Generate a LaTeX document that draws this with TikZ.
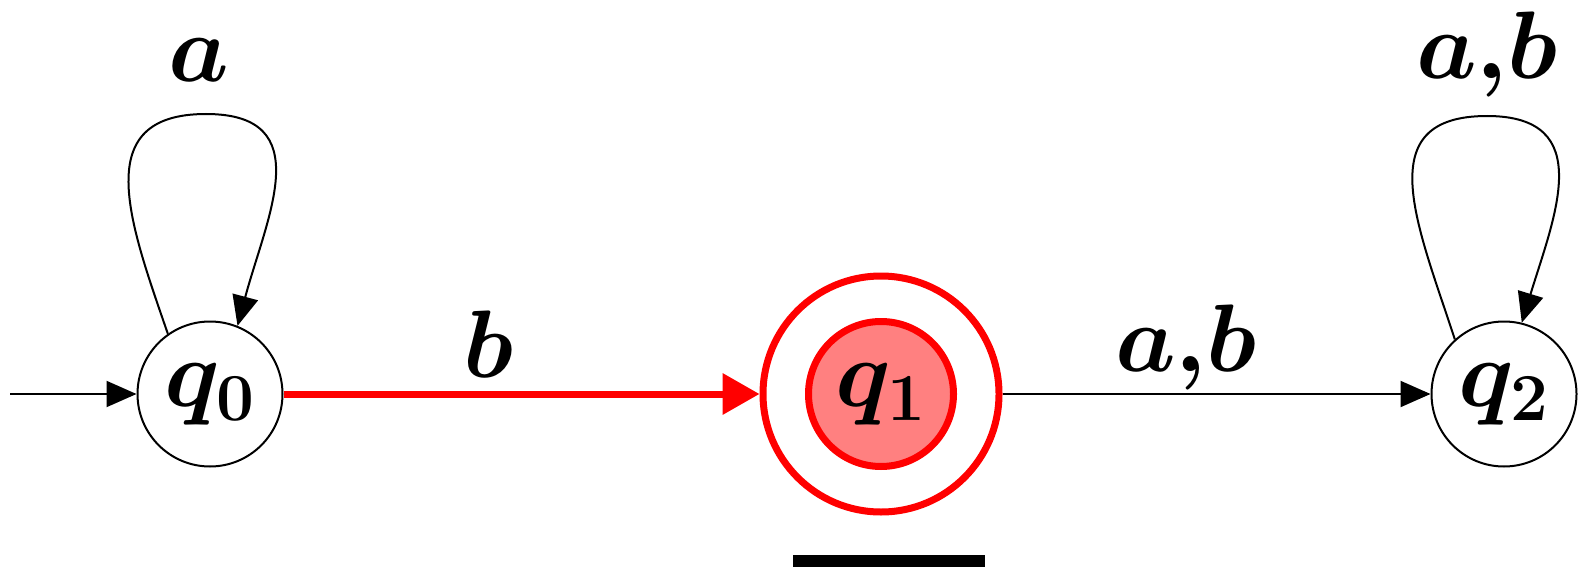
\RequirePackage{fix-cm}
\documentclass[tikz,border=0pt]{standalone}
\usetikzlibrary{arrows.meta}
\begin{document}
\begin{tikzpicture}[x=0.5pt, y=0.5pt, line width=1pt,
                    >={Triangle[length=15pt,width=13pt]},
                    font=\fontsize{48}{56}\selectfont\boldmath]
  \tikzset{stt/.style={draw, circle, minimum size=72.5pt, inner sep=0pt},
           hot/.style={draw=red, line width=3.5pt},
           lbl/.style={inner sep=0pt}}
  \useasboundingbox (0,0) rectangle (1579,569);
  % states
  \node[stt]                                         (q0)   at (210,175)  {$q_0$};
  \node[stt, hot, minimum size=118pt]                (q1)   at (881,175)  {};
  \node[stt, hot, fill=red!50]                       (q1in) at (881,175)  {$q_1$};
  \node[stt]                                         (q2)   at (1504,175) {$q_2$};
  \coordinate (init) at (10,175);
  \coordinate (t0) at (206,455);
  \coordinate (t2) at (1487,453);
  % labels
  \node[lbl] (la0) at (199,509)  {$a$};
  \node[lbl] (la2) at (1487,514) {$a{,}b$};
  \node[lbl] (lb)  at (488,225)  {$b$};
  \node[lbl] (lab) at (1186,222) {$a{,}b$};
  \node[fill, minimum width=96pt, minimum height=6pt, inner sep=0pt] (bar) at (889,8) {};
  % transitions
  \draw[->] (init) -- (q0);
  \draw[red, line width=3.5pt, -{Triangle[length=18.5pt,width=20pt]}] (q0) -- (q1);
  \draw[->] (q1) -- (q2);
  \draw[->] (q0.125) to[out=109,in=180,looseness=1.35] (t0)
                     to[out=0,in=75,looseness=1.35] (q0.68);
  \draw[->] (q2.132) to[out=108,in=180,looseness=1.35] (t2)
                     to[out=0,in=73,looseness=1.35] (q2.76);
\end{tikzpicture}
\end{document}
